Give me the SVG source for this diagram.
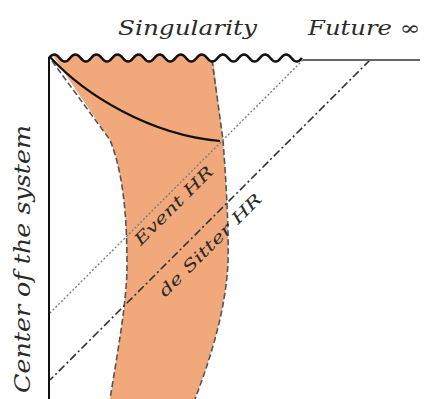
<svg xmlns="http://www.w3.org/2000/svg" width="427" height="399" viewBox="0 0 427 399">
<style>
.lbl{font-family:"DejaVu Serif","Liberation Serif",serif;font-style:italic;fill:#2a2a2a}
.edge{fill:none;stroke:#555;stroke-width:1.6;stroke-dasharray:6 3}
</style>
<defs>
<clipPath id="below">
<path d="M49,58 q5.27,-7 10.54,0 t10.54,0 t10.54,0 t10.54,0 t10.54,0 t10.54,0 t10.54,0 t10.54,0 t10.54,0 t10.54,0 t10.54,0 t10.54,0 t10.54,0 t10.54,0 t10.54,0 t10.54,0 t10.54,0 t10.54,0 t10.54,0 t10.54,0 t10.54,0 t10.54,0 t10.54,0 t10.54,0 L303,399 L49,399 Z"/>
</clipPath>
</defs>
<rect width="427" height="399" fill="#fff"/>
<g id="region">
<path clip-path="url(#below)" fill="#F1A87B" d="M49,50 L212,50 L223,140 C226,180 229,230 228,262 C226,310 210,360 195,399 L110,399 C118,350 127,300 127,265 C127,210 122,170 110,140 Z"/>
<path class="edge" d="M52,61 L110,140 C122,170 127,210 127,265 C127,300 118,350 110,399"/>
<path class="edge" d="M212,60 L223,140 C226,180 229,230 228,262 C226,310 210,360 195,399"/>
</g>
<g id="connectors">
<path d="M303,60 L50,313" fill="none" stroke="#777" stroke-width="1.3" stroke-dasharray="2 2"/>
<path d="M370,60 L50,380" fill="none" stroke="#333" stroke-width="1.6" stroke-dasharray="8 3 2 3"/>
<path d="M50,57 C85,95 150,135 220,141" fill="none" stroke="#111" stroke-width="2.2"/>
<path d="M303,60 L420,60" fill="none" stroke="#666" stroke-width="2.2"/>
<path d="M49,57 L49,399" fill="none" stroke="#111" stroke-width="2"/>
</g>
<g id="singularity">
<path d="M49,58 q5.27,-7 10.54,0 t10.54,0 t10.54,0 t10.54,0 t10.54,0 t10.54,0 t10.54,0 t10.54,0 t10.54,0 t10.54,0 t10.54,0 t10.54,0 t10.54,0 t10.54,0 t10.54,0 t10.54,0 t10.54,0 t10.54,0 t10.54,0 t10.54,0 t10.54,0 t10.54,0 t10.54,0 t10.54,0" fill="none" stroke="#111" stroke-width="2.5"/>
<text class="lbl" x="118" y="35" font-size="20" textLength="139" lengthAdjust="spacingAndGlyphs">Singularity</text>
</g>
<g id="future">
<text class="lbl" x="308" y="35" font-size="20" textLength="112" lengthAdjust="spacingAndGlyphs">Future ∞</text>
</g>
<g id="center">
<text class="lbl" transform="translate(30,393) rotate(-90)" font-size="22" textLength="268" lengthAdjust="spacingAndGlyphs">Center of the system</text>
</g>
<g id="event-hr">
<text class="lbl" transform="translate(177.5,209.5) rotate(-45)" text-anchor="middle" font-size="16" textLength="104" lengthAdjust="spacingAndGlyphs">Event HR</text>
</g>
<g id="desitter-hr">
<text class="lbl" transform="translate(214,249) rotate(-45)" text-anchor="middle" font-size="16" textLength="138" lengthAdjust="spacingAndGlyphs">de Sitter HR</text>
</g>
</svg>
